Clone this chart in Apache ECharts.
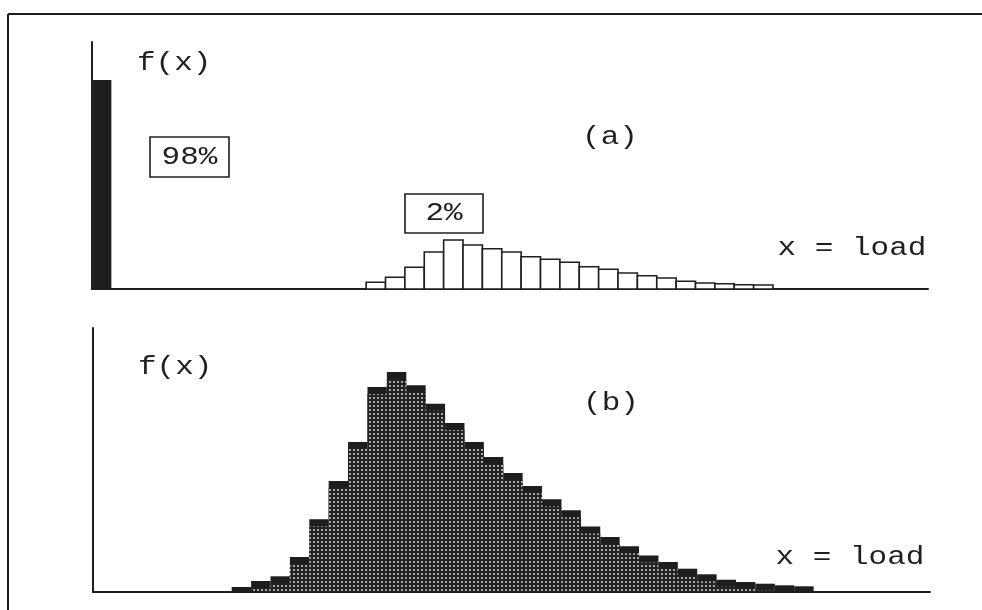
<!DOCTYPE html>
<html>
<head>
<meta charset="utf-8">
<script src="https://cdn.jsdelivr.net/npm/echarts@6/dist/echarts.min.js"></script>
<style>
  html, body { margin: 0; padding: 0; background: #fff; }
  #chart { width: 982px; height: 610px; }
</style>
</head>
<body>
<div id="chart"></div>
<script>
// (a) a spike at zero load plus a small histogram of loaded states
const spikeLeftA = 0;
const spikeF = 209;
const binLeftA = [14.15, 15.15, 16.15, 17.15, 18.15, 19.15, 20.15, 21.15, 22.15, 23.15, 24.15,
                  25.15, 26.15, 27.15, 28.15, 29.15, 30.15, 31.15, 32.15, 33.15, 34.15];
const fA = [6.7, 11.7, 21.7, 37, 49, 44, 40.3, 37, 32.3, 29.7, 26.7,
            22.3, 19.7, 16, 13.3, 11, 7.7, 6, 5.3, 4.3, 4];

// (b) a single continuous load distribution
const binLeftB = [7.15, 8.15, 9.15, 10.15, 11.15, 12.15, 13.15, 14.15, 15.15, 16.15,
                  17.15, 18.15, 19.15, 20.15, 21.15, 22.15, 23.15, 24.15, 25.15, 26.15,
                  27.15, 28.15, 29.15, 30.15, 31.15, 32.15, 33.15, 34.15, 35.15, 36.15];
const fB = [5, 11, 15.7, 35, 72.7, 111, 150, 205, 220, 206.7,
            188.3, 169, 150, 135, 119, 106, 92.7, 81.7, 65.5, 55,
            45.7, 36.5, 30, 23.3, 17.7, 12.3, 10, 8.3, 6.7, 5.7];

const binWidth = 1;
const labelsA = { mass0: '98%', massLoaded: '2%', panel: '(a)' };
const labelsB = { panel: '(b)' };
const yName = 'f(x)';
const xName = 'x = load';

const INK = '#1f1f1f';
const FONT = '31px "Liberation Mono", "DejaVu Sans Mono", monospace';

// halftone fill: dark ground with light dots
const dot = document.createElement('canvas');
dot.width = 4; dot.height = 4;
(function () {
  const c = dot.getContext('2d');
  c.fillStyle = '#222222';
  c.fillRect(0, 0, 4, 4);
  c.fillStyle = '#a6a6a6';
  c.fillRect(1, 1, 2, 2);
})();
const halftone = { image: dot, repeat: 'repeat' };

function rows(lefts, vals) {
  return lefts.map((l, i) => [l, l + binWidth, vals[i]]);
}

function rectFor(api) {
  const p0 = api.coord([api.value(0), api.value(2)]);
  const p1 = api.coord([api.value(1), 0]);
  return { x: p0[0], y: p0[1], width: p1[0] - p0[0], height: p1[1] - p0[1] };
}

function outlinedBars(params, api) {
  return { type: 'rect', shape: rectFor(api),
           style: { fill: '#fff', stroke: INK, lineWidth: 1.6 } };
}
function solidBar(params, api) {
  return { type: 'rect', shape: rectFor(api), style: { fill: INK } };
}
function shadedBars(params, api) {
  const r = rectFor(api);
  const band = Math.min(7, r.height);
  return {
    type: 'group',
    children: [
      { type: 'rect', shape: r, style: { fill: '#1e1e1e' } },
      { type: 'rect', shape: { x: r.x, y: r.y + band, width: r.width, height: r.height - band },
        style: { fill: halftone } }
    ]
  };
}

function text(str, x, y, align) {
  return {
    type: 'text', x: x, y: y, scaleY: 0.82, z: 10,
    style: { text: str, font: FONT, fill: INK,
             align: align || 'center', textAlign: align || 'center',
             verticalAlign: 'middle', textVerticalAlign: 'middle' }
  };
}
function box(x, y, w, h) {
  return { type: 'rect', z: 9, shape: { x: x, y: y, width: w, height: h },
           style: { fill: '#fff', stroke: INK, lineWidth: 1.6 } };
}

const axisLine = { show: true, lineStyle: { color: INK, width: 2 } };
const bareAxis = {
  axisLine: axisLine, axisTick: { show: false }, axisLabel: { show: false },
  splitLine: { show: false }
};

const chart = echarts.init(document.getElementById('chart'), null, { renderer: 'canvas' });
chart.setOption({
  animation: false,
  backgroundColor: '#fff',
  grid: [
    { left: 92, right: 54, top: 42, bottom: 321 },
    { left: 93, right: 52, top: 328, bottom: 18 }
  ],
  xAxis: [
    Object.assign({ type: 'value', gridIndex: 0, min: 0, max: 43.15 }, bareAxis),
    Object.assign({ type: 'value', gridIndex: 1, min: 0, max: 43.15 }, bareAxis)
  ],
  yAxis: [
    Object.assign({ type: 'value', gridIndex: 0, min: 0, max: 247 }, bareAxis),
    Object.assign({ type: 'value', gridIndex: 1, min: 0, max: 264 }, bareAxis)
  ],
  series: [
    { type: 'custom', xAxisIndex: 0, yAxisIndex: 0, renderItem: solidBar,
      encode: { x: [0, 1], y: 2 },
      data: [[spikeLeftA, spikeLeftA + binWidth, spikeF]] },
    { type: 'custom', xAxisIndex: 0, yAxisIndex: 0, renderItem: outlinedBars,
      encode: { x: [0, 1], y: 2 }, data: rows(binLeftA, fA) },
    { type: 'custom', xAxisIndex: 1, yAxisIndex: 1, renderItem: shadedBars,
      encode: { x: [0, 1], y: 2 }, data: rows(binLeftB, fB) }
  ],
  graphic: [
    // outer frame
    { type: 'line', shape: { x1: 8, y1: 14, x2: 982, y2: 14 }, style: { stroke: INK, lineWidth: 2 } },
    { type: 'line', shape: { x1: 8, y1: 14, x2: 8, y2: 610 }, style: { stroke: INK, lineWidth: 2 } },
    // panel (a)
    text(yName, 137, 63, 'left'),
    box(150, 137, 79, 40),
    text(labelsA.mass0, 189.5, 157),
    text(labelsA.panel, 610, 137),
    box(405, 194, 78, 39),
    text(labelsA.massLoaded, 444, 213.5),
    text(xName, 852, 248),
    // panel (b)
    text(yName, 138, 367, 'left'),
    text(labelsB.panel, 611, 403),
    text(xName, 850, 557)
  ]
});
</script>
</body>
</html>
